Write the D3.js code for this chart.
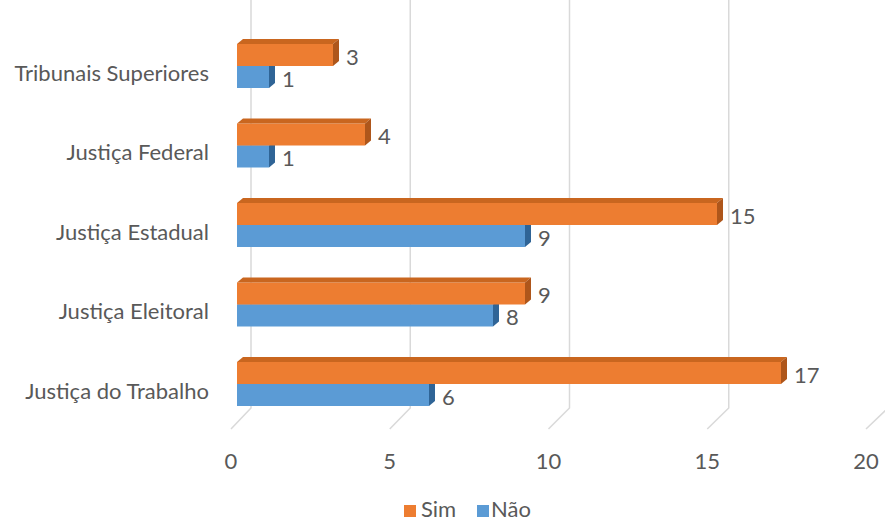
<!DOCTYPE html>
<html>
<head>
<meta charset="utf-8">
<script src="https://cdn.jsdelivr.net/npm/d3@7"></script>
<style>
  html, body { margin: 0; padding: 0; background: #fff; }
  svg { display: block; }
  text { font-family: Lato, "Noto Sans", sans-serif; fill: #595959; }
</style>
</head>
<body>
<svg id="chart" width="885" height="524"></svg>
<script>
const categories = ["Tribunais Superiores", "Justiça Federal", "Justiça Estadual", "Justiça Eleitoral", "Justiça do Trabalho"];
const seriesNames = ["Sim", "Não"];
const simValues = [3, 4, 15, 9, 17];
const naoValues = [1, 1, 9, 8, 6];
const xTicks = [0, 5, 10, 15, 20];

const colors = {
  "Sim": { front: "#ED7D31", top: "#C9661F", side: "#AE561B" },
  "Não": { front: "#5B9BD5", top: "#4A82B8", side: "#2F6496" }
};

const svg = d3.select("#chart");
const FS = 22;

// bar plane scale and back wall / front floor scales
const x = d3.scaleLinear().domain([0, 20]).range([237, 877]);
const xBack = d3.scaleLinear().domain([0, 20]).range([251, 888]);
const xFront = d3.scaleLinear().domain([0, 20]).range([231, 866]);

const step = 79.5;
const y = d3.scaleBand().domain(categories).range([66 - step / 2, 384 + step / 2]).padding(0);
const barH = 22;
const ys = d3.scaleBand().domain(seriesNames).range([-barH, barH]).padding(0);
const dx = 6, dy = -5;
const backY = 408, frontY = 429;

// gridlines (back wall + floor diagonal)
const grid = svg.append("g");
xTicks.forEach(v => {
  grid.append("path")
    .attr("d", `M${xBack(v)},0 L${xBack(v)},${backY} L${xFront(v)},${frontY}`)
    .attr("fill", "none")
    .attr("stroke", "#d9d9d9")
    .attr("stroke-width", 1.5);
});

// tick labels
svg.append("g").selectAll("text").data(xTicks).join("text")
  .attr("x", d => xFront(d))
  .attr("y", 460)
  .attr("text-anchor", "middle")
  .attr("dominant-baseline", "central")
  .attr("font-size", FS)
  .text(d => d);

// category labels
svg.append("g").selectAll("text").data(categories).join("text")
  .attr("x", 209)
  .attr("y", d => y(d) + step / 2 + 6)
  .attr("text-anchor", "end")
  .attr("dominant-baseline", "central")
  .attr("font-size", FS)
  .text(d => d);

const rows = categories.map((c, i) => ({ cat: c, Sim: simValues[i], "Não": naoValues[i] }));

function drawBar(g, cat, s, v) {
  const c = y(cat) + step / 2;
  const y0 = c + ys(s);
  const y1 = y0 + ys.bandwidth();
  const x0 = x(0), x1 = x(v);
  const col = colors[s];
  g.append("rect").attr("x", x0).attr("y", y0).attr("width", x1 - x0).attr("height", y1 - y0).attr("fill", col.front);
  g.append("path").attr("d", `M${x0},${y0} L${x0 + dx},${y0 + dy} L${x1 + dx},${y0 + dy} L${x1},${y0} Z`).attr("fill", col.top);
  g.append("path").attr("d", `M${x1},${y0} L${x1 + dx},${y0 + dy} L${x1 + dx},${y1 + dy} L${x1},${y1} Z`).attr("fill", col.side);
  g.append("text")
    .attr("x", x1 + dx + 7)
    .attr("y", (y0 + y1) / 2 + 1)
    .attr("dominant-baseline", "central")
    .attr("font-size", FS)
    .text(v);
}

const bars = svg.append("g");
rows.forEach(r => {
  drawBar(bars, r.cat, "Não", r["Não"]);
  drawBar(bars, r.cat, "Sim", r.Sim);
});

// legend
const legend = svg.append("g");
const legendItems = [
  { name: "Sim", sx: 404, tx: 421 },
  { name: "Não", sx: 477, tx: 491 }
];
legendItems.forEach(it => {
  legend.append("rect").attr("x", it.sx).attr("y", 505).attr("width", 12).attr("height", 12).attr("fill", colors[it.name].front);
  legend.append("text").attr("x", it.tx).attr("y", 517).attr("font-size", FS).text(it.name);
});
</script>
</body>
</html>
